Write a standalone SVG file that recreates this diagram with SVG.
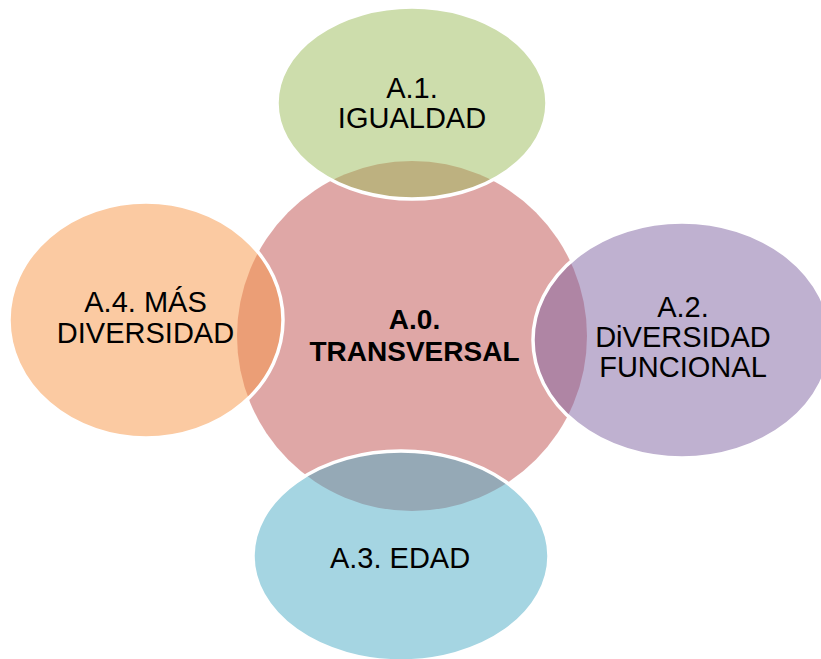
<svg xmlns="http://www.w3.org/2000/svg" width="821" height="659" viewBox="0 0 821 659">
<style>
.sat{stroke:#FFFFFF;stroke-width:3.5;fill-opacity:0.5}
.t{font-family:"Liberation Sans",Arial,sans-serif;font-size:29px;fill:#000000;text-anchor:middle}
.b{font-weight:bold;font-size:28px}
</style>
<rect width="821" height="659" fill="#FFFFFF"/>
<g id="connectors"></g>
<g id="n0">
<circle cx="412" cy="336" r="175" fill="#C0504D" fill-opacity="0.5"/>
</g>
<g id="n1">
<ellipse class="sat" cx="412" cy="103" rx="135" ry="96" fill="#9BBB59"/>
<text class="t" x="412" y="98">A.1.</text>
<text class="t" x="412" y="128">IGUALDAD</text>
</g>
<g id="n2">
<ellipse class="sat" cx="682" cy="340" rx="149" ry="118" fill="#8064A2"/>
<text class="t" x="683" y="317">A.2.</text>
<text class="t" x="683" y="347">DiVERSIDAD</text>
<text class="t" x="683" y="377">FUNCIONAL</text>
</g>
<g id="n3">
<ellipse class="sat" cx="401" cy="556" rx="148" ry="105" fill="#4BACC6"/>
<text class="t" x="400" y="568">A.3. EDAD</text>
</g>
<g id="n4">
<ellipse class="sat" cx="146" cy="320" rx="137" ry="118" fill="#F79646"/>
<text class="t" x="145.5" y="312">A.4. MÁS</text>
<text class="t" x="145.5" y="343">DIVERSIDAD</text>
</g>
<g id="center-label">
<text class="t b" x="414.5" y="329">A.0.</text>
<text class="t b" x="414.5" y="361">TRANSVERSAL</text>
</g>
</svg>
